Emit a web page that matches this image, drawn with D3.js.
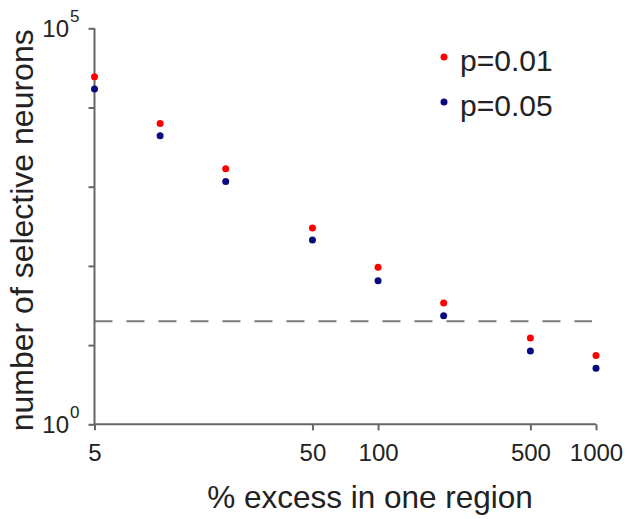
<!DOCTYPE html>
<html>
<head>
<meta charset="utf-8">
<script src="https://cdn.jsdelivr.net/npm/d3@7"></script>
<style>
  html, body { margin: 0; padding: 0; background: #fff; }
  svg { display: block; font-family: "Liberation Sans", Arial, Helvetica, sans-serif; }
</style>
</head>
<body>
<svg id="chart" width="627" height="519"></svg>
<script>
// ---- data ----
const excess = [5, 10, 20, 50, 100, 200, 500, 1000];
const p01 = [24500, 6300, 1680, 300, 96, 34, 12.3, 7.4];
const p05 = [17100, 4400, 1160, 212, 65, 23.5, 8.4, 5.1];
const seriesNames = ["p=0.01", "p=0.05"];
const seriesColors = ["#ff0000", "#0a0a80"];
const xTickValues = [5, 50, 100, 500, 1000];
const yTickValues = [1, 10, 100, 1000, 10000, 100000];
const yLabelExponents = [0, 5];
const threshold = 20;

// ---- layout ----
const svg = d3.select("#chart");
const x = d3.scaleLog().domain([5, 1000]).range([94.5, 596]);
const y = d3.scaleLog().domain([1, 100000]).range([424.3, 28.3]);
const axisColor = "#666";
const textColor = "#222";

// dashed threshold line
svg.append("line")
  .attr("x1", x(5)).attr("x2", x(1000) - 4)
  .attr("y1", y(threshold)).attr("y2", y(threshold))
  .attr("stroke", "#7a7a7a").attr("stroke-width", 2)
  .attr("stroke-dasharray", "18,14");

// x axis
const xAxis = d3.axisBottom(x).tickValues(xTickValues).tickSize(6).tickFormat(d3.format("d"));
const gx = svg.append("g").attr("transform", `translate(0,${y(1)})`).call(xAxis);
gx.select(".domain").attr("stroke", axisColor).attr("stroke-width", 2).attr("d", `M${x(5)},0H${x(1000)}`);
gx.selectAll(".tick line").attr("stroke", axisColor).attr("stroke-width", 2);
gx.selectAll(".tick text").attr("fill", textColor).attr("font-size", 24)
  .attr("font-family", "Liberation Sans, Arial, sans-serif").attr("dy", null).attr("y", 37);

// y axis
const yAxis = d3.axisLeft(y).tickValues(yTickValues).tickSize(6).tickFormat("");
const gy = svg.append("g").attr("transform", `translate(${x(5)},0)`).call(yAxis);
gy.select(".domain").attr("stroke", axisColor).attr("stroke-width", 2).attr("d", `M0,${y(1)}V${y(100000)}`);
gy.selectAll(".tick line").attr("stroke", axisColor).attr("stroke-width", 2);

// y tick labels 10^0 and 10^5
yLabelExponents.forEach(e => {
  svg.append("text")
    .attr("x", 69).attr("y", y(Math.pow(10, e)) + 9)
    .attr("text-anchor", "end")
    .attr("fill", textColor).attr("font-size", 24)
    .text("10");
  svg.append("text")
    .attr("x", 70).attr("y", y(Math.pow(10, e)) - 6)
    .attr("fill", textColor).attr("font-size", 17)
    .text(String(e));
});

// points
const series = [p01, p05];
series.forEach((vals, i) => {
  svg.append("g").selectAll("circle")
    .data(vals.map((v, j) => ({ x: excess[j], v })))
    .join("circle")
    .attr("cx", d => x(d.x))
    .attr("cy", d => y(d.v))
    .attr("r", 3.5)
    .attr("fill", seriesColors[i]);
});

// legend
seriesNames.forEach((name, i) => {
  const ly = 57 + i * 45;
  svg.append("circle").attr("cx", 444).attr("cy", ly).attr("r", 3.5).attr("fill", seriesColors[i]);
  svg.append("text").attr("x", 460).attr("y", ly + 14)
    .attr("fill", textColor).attr("font-size", 30).text(name);
});

// axis titles
svg.append("text")
  .attr("x", 370).attr("y", 508)
  .attr("text-anchor", "middle").attr("fill", textColor).attr("font-size", 31.5)
  .text("% excess in one region");

svg.append("text")
  .attr("transform", `translate(33,${(y(1) + y(100000)) / 2 + 4}) rotate(-90)`)
  .attr("text-anchor", "middle").attr("fill", textColor).attr("font-size", 32)
  .text("number of selective neurons");
</script>
</body>
</html>
